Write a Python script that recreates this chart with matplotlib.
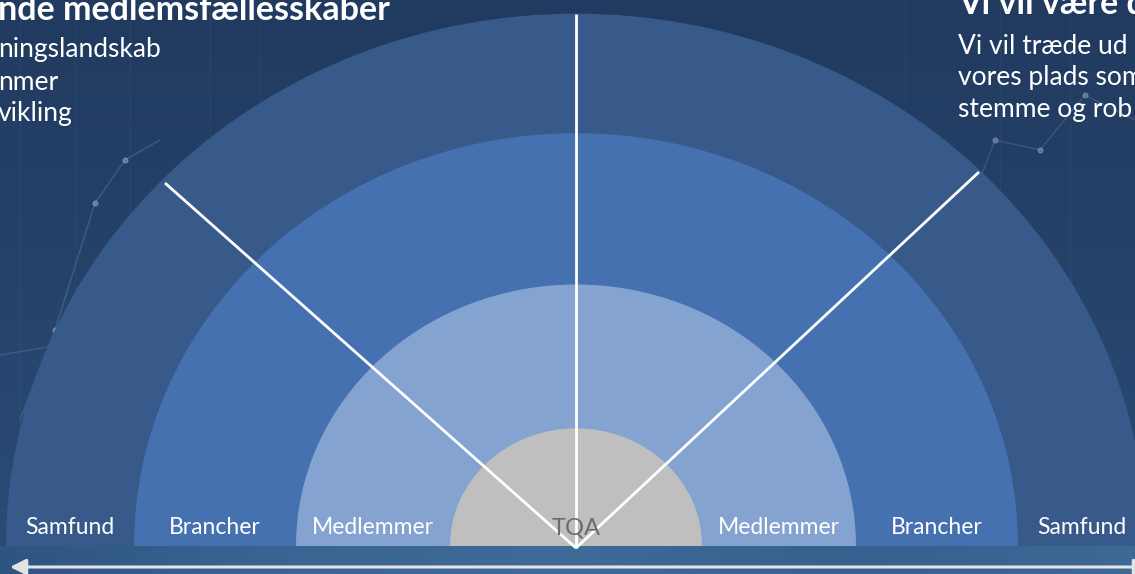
import numpy as np
import matplotlib.pyplot as plt
from matplotlib.patches import Ellipse
from matplotlib.colors import LinearSegmentedColormap

# rings from outside in
ring_names = ['Samfund', 'Brancher', 'Medlemmer', 'TQA']
ring_radius = [570, 442, 280, 126]        # horizontal radius in px
ring_colors = ['#375a8a', '#4571b0', '#84a3d0', '#bfbfbf']
y_squash = 0.934

# spokes: end points of the white lines
spoke_ends = [(165, 183), (576, 14), (979, 172)]

left_title = 'nde medlemsfællesskaber'
left_lines = ['ningslandskab', 'nmer', 'vikling']
right_title = 'Vi vil være d'
right_lines = ['Vi vil træde ud', 'vores plads som', 'stemme og rob']

W, H = 1135, 574
cx, base = 576, 546

plt.rcParams['font.family'] = ['Lato', 'DejaVu Sans']

fig = plt.figure(figsize=(W / 100, H / 100), dpi=100)
ax = fig.add_axes([0, 0, 1, 1])
ax.set_xlim(0, W)
ax.set_ylim(H, 0)
ax.axis('off')

# background gradient
bg = LinearSegmentedColormap.from_list('bg', ['#213a5f', '#26436b', '#2b4c78'])
grad = np.linspace(0, 1, 200).reshape(-1, 1)
ax.imshow(grad, cmap=bg, extent=[0, W, H, 0], aspect='auto', zorder=0)

# faint network decoration
net_x = [20, 55, 95, 125, 160]
net_y = [420, 330, 203, 160, 140]
ax.plot(net_x, net_y, color='#6f8fba', lw=1, alpha=0.35, zorder=1)
ax.scatter(net_x[1:-1], net_y[1:-1], s=12, color='#9fb6d6', alpha=0.45, zorder=1)
ax.plot([0, 30, 60], [355, 350, 345], color='#6f8fba', lw=1, alpha=0.3, zorder=1)
net_x2 = [960, 995, 1040, 1085, 1135]
net_y2 = [230, 140, 150, 95, 120]
ax.plot(net_x2, net_y2, color='#6f8fba', lw=1, alpha=0.3, zorder=1)
ax.scatter(net_x2[1:-1], net_y2[1:-1], s=12, color='#9fb6d6', alpha=0.4, zorder=1)
for vx in [20, 75, 130, 210, 260, 905, 1000, 1070]:
    ax.plot([vx, vx], [0, 546], color='#4a6a96', lw=1, alpha=0.15, zorder=1)

# rings
for i, (r, c) in enumerate(zip(ring_radius, ring_colors)):
    ax.add_patch(Ellipse((cx, base), 2 * r, 2 * r * y_squash, color=c, lw=0, zorder=2 + i))

# bottom band hides the lower halves
band = LinearSegmentedColormap.from_list('band', ['#2e5482', '#3a6592', '#3f6b98', '#36608e', '#3d6996'])
ax.imshow(np.linspace(0, 1, 300).reshape(1, -1), cmap=band, extent=[0, W, H, base],
          aspect='auto', zorder=8)

# spokes
for ex, ey in spoke_ends:
    ax.plot([cx, ex], [base + 2, ey], color='white', lw=2, zorder=9, solid_capstyle='butt')

# labels in each ring, both sides
for i, name in enumerate(ring_names[:-1]):
    mid = (ring_radius[i] + ring_radius[i + 1]) / 2
    for side in (-1, 1):
        ax.text(cx + side * mid, 528, name, color='white', fontsize=16.5,
                ha='center', va='center', zorder=10)
ax.text(cx, 528, ring_names[-1], color='#6b6b6b', fontsize=17, ha='center', va='center', zorder=10)

# arrow at the bottom
ax.annotate('', xy=(10, 567), xytext=(1150, 567), zorder=11,
            arrowprops=dict(arrowstyle='<|-|>', color='#e4e4e4', lw=2.2,
                            mutation_scale=24, shrinkA=0, shrinkB=0))

# text blocks at top corners
ax.text(-2, 10, left_title, color='white', fontsize=24.5, fontweight='bold', ha='left', va='center', zorder=10)
for j, line in enumerate(left_lines):
    ax.text(-2, 50 + j * 32, line, color='white', fontsize=19, ha='left', va='center', zorder=10)

ax.text(958, 4, right_title, color='white', fontsize=24.5, fontweight='bold', ha='left', va='center', zorder=10)
for j, line in enumerate(right_lines):
    ax.text(958, 46 + j * 32, line, color='white', fontsize=19, ha='left', va='center', zorder=10)

fig.savefig('out.png', dpi=100)
